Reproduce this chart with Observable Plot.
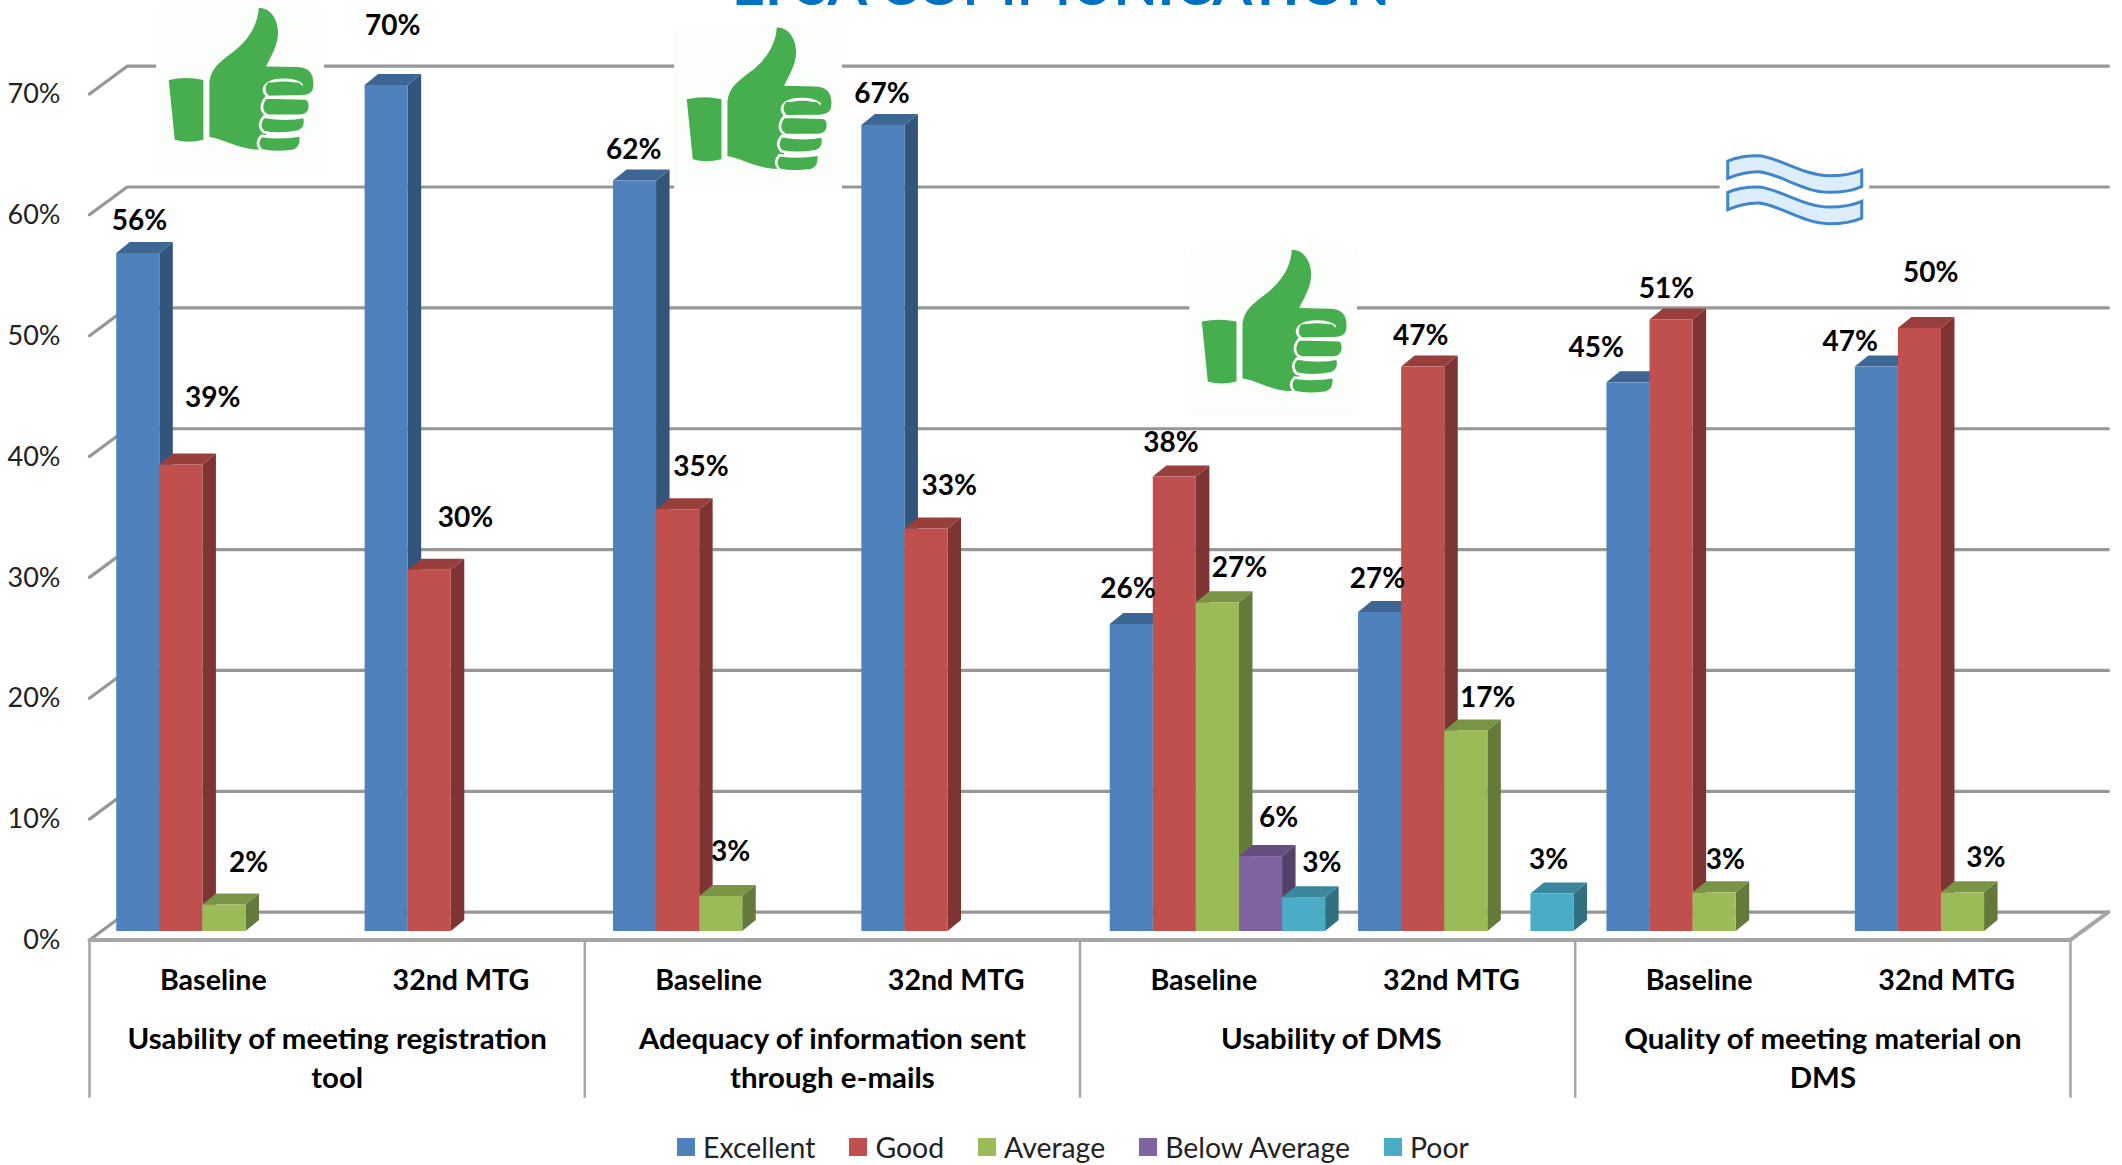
<!DOCTYPE html>
<html>
<head>
<meta charset="utf-8">
<script src="https://cdn.jsdelivr.net/npm/d3@7"></script>
<script src="https://cdn.jsdelivr.net/npm/@observablehq/plot@0.6"></script>
<style>
  html, body { margin: 0; padding: 0; background: #fff; overflow: hidden; }
  #root { position: relative; width: 2122px; height: 1165px; overflow: hidden; }
  #title { position: absolute; left: 0; right: 0; top: -46px; text-align: center; color: #0070c0;
           font: 700 57.3px Lato, sans-serif; line-height: 57.3px; white-space: nowrap; }
  svg { display: block; }
  .lg-swatch { margin-right: 34px !important; }
  .lg-swatch > svg { margin-right: 8px !important; }
</style>
</head>
<body>
<div id="root">
<div id="title">EFSA COMMUNICATION</div>
</div>
<script>
const seriesNames = ["Excellent", "Good", "Average", "Below Average", "Poor"];
const seriesColors = ["#4f81bd", "#c0504d", "#9bbb59", "#8064a2", "#4bacc6"];
const periods = ["Baseline", "32nd MTG", "Baseline", "32nd MTG", "Baseline", "32nd MTG", "Baseline", "32nd MTG"];
const topics = ["Usability of meeting registration\ntool", "Adequacy of information sent\nthrough e-mails", "Usability of DMS", "Quality of meeting material on\nDMS"];
const topicCentres = [1, 3, 5.015, 7];
const excellent = [56.1, 70, 62.1, 66.7, 25.4, 26.4, 45.4, 46.7];
const good = [38.6, 29.9, 34.9, 33.3, 37.6, 46.7, 50.6, 49.9];
const average = [2.2, null, 2.9, null, 27.2, 16.6, 3.2, 3.2];
const belowAverage = [null, null, null, null, 6.2, null, null, null];
const poor = [null, null, null, null, 2.8, 3.1, null, null];
const gridLevels = [0, 10, 20, 30, 40, 50, 60, 70];

// Printed data labels, bar by bar, in drawing order
const labelTexts = ["56%", "39%", "2%", "70%", "30%", "62%", "35%", "3%", "67%", "33%", "26%", "38%", "27%", "6%", "3%", "27%", "47%", "17%", "3%", "45%", "51%", "3%", "47%", "50%", "3%"];
// Hand placed data labels of the original: sideways in bar widths, upward in percentage points
const labelShift = [0.03, 0.73, 0.56, 0.14, 0.83, -0.03, 0.53, 0.22, -0.03, 0.53, -0.09, -0.09, 0.5, 0.41, 0.41, -0.06, -0.06, 0.5, -0.09, -0.75, -0.12, 0.25, -0.62, 0.25, 0.53];
const labelLift = [2.7, 5.5, 3.5, 4.9, 4.3, 2.6, 3.5, 3.7, 2.6, 3.6, 2.9, 2.8, 2.9, 3.2, 2.9, 2.8, 2.6, 2.7, 2.8, 2.9, 2.6, 2.7, 2.1, 4.6, 2.9];

// Chart geometry in scale units
const barPitch = 1.003, barOffset = 0.11, barWidth = 0.174;
const depthX = 13.5, depthY = 11;
const wallDepth = 0.152, wallRight = 8.153, frontDrop = -0.7, backRise = 1.6;

const seriesValues = [excellent, good, average, belowAverage, poor];
const bars = [];
periods.forEach((period, slot) => {
  seriesValues.forEach((values, s) => {
    if (values[slot] != null) bars.push({slot, s, series: seriesNames[s], value: values[slot],
      x1: slot * barPitch + barOffset + s * barWidth, x2: slot * barPitch + barOffset + (s + 1) * barWidth});
  });
});
bars.forEach((b, i) => { b.label = labelTexts[i]; b.labelX = (b.x1 + b.x2) / 2 + labelShift[i] * barWidth; b.labelY = b.value + labelLift[i]; });

const gridPath = gridLevels.flatMap(level => [
  {level, x: 0, y: level + frontDrop},
  {level, x: wallDepth, y: level + backRise},
  {level, x: wallRight, y: level + backRise}
]);
const floorEdge = [
  {x: 0, y: frontDrop}, {x: 8, y: frontDrop}, {x: wallRight, y: backRise}
];

const svgUri = s => "data:image/svg+xml;charset=utf-8," + encodeURIComponent(s);
const thumbSvg = svgUri(`<svg xmlns="http://www.w3.org/2000/svg" viewBox="0 0 504 504" preserveAspectRatio="none" width="504" height="504">
<rect width="504" height="504" fill="#fbfefb"/>
<g fill="#46ae4f">
<path d="M38 224 Q90 212 142 224 L142 406 Q95 418 56 406 Z"/>
<path d="M160 397 L160 230 C165 190 190 170 230 140 C275 105 305 60 308 6 C340 5 365 35 366 80 C366 120 345 150 330 183 L420 185 C455 185 472 200 472 235 C472 262 462 268 440 270 L330 272 L330 435 L296 435 C240 430 195 400 160 397 Z"/>
</g>
<path d="M436 238 C412 218 352 222 334 236 C320 248 322 262 334 272" fill="none" stroke="#fbfefb" stroke-width="9" stroke-linecap="round"/>
<path d="M336 232 L425 232 Q440 235 440 256 L440 270 L336 270 Q322 250 336 232 Z" fill="#46ae4f"/>
<g fill="#46ae4f" stroke="#fbfefb" stroke-width="8">
<path d="M330 277 L447 280 Q464 282 461 310 Q456 332 432 333 L336 333 Q314 322 318 300 Q321 286 330 277 Z"/>
<path d="M323 336 C370 344 410 344 445 336 Q454 372 427 381 C390 388 350 388 322 382 Q302 360 323 336 Z"/>
<path d="M316 394 C360 400 400 398 434 392 Q438 432 412 439 C380 444 340 444 316 438 Q296 416 316 394 Z"/>
</g>
</svg>`);
const waveBand = "M25 33 C55 20 85 17 115 17 C170 17 250 77 330 77 C370 77 405 70 427 60 L427 110 C405 120 370 127 330 127 C250 127 170 65 115 65 C85 65 55 72 25 85 Z";
const waveSvg = svgUri(`<svg xmlns="http://www.w3.org/2000/svg" viewBox="0 0 450 240" preserveAspectRatio="none" width="450" height="240">
<rect width="450" height="240" fill="#ffffff"/>
<g fill="#deedfb" stroke="#4186c8" stroke-width="9"><path d="${waveBand}"/><path d="${waveBand}" transform="translate(0,94)"/></g>
</svg>`);
const thumbs = [{x: 0.608, y: 69.7}, {x: 2.70, y: 68.1}, {x: 4.78, y: 49.7}];
const waves = [{x: 6.885, y: 61.35}];

const shade = (c, k) => { const r = d3.rgb(c); return d3.rgb(r.r * k, r.g * k, r.b * k).formatHex(); };
const ns = "http://www.w3.org/2000/svg";
const faces = (index, scales, values, dims, ctx, next) => {
  const g = next(index, scales, values, dims, ctx);
  const rects = [...g.querySelectorAll("rect")];
  index.forEach((i, n) => {
    const x1 = values.x1[i], x2 = values.x2[i], y1 = values.y1[i], y2 = values.y2[i], fill = values.fill[i];
    const poly = (pts, k) => {
      const p = document.createElementNS(ns, "polygon");
      p.setAttribute("points", pts.map(q => q.join(",")).join(" "));
      p.setAttribute("fill", shade(fill, k));
      g.insertBefore(p, rects[n]);
    };
    poly([[x2, y1], [x2 + depthX, y1 - depthY], [x2 + depthX, y2 - depthY], [x2, y2]], 0.65);
    poly([[x1, y2], [x1 + depthX, y2 - depthY], [x2 + depthX, y2 - depthY], [x2, y2]], 0.79);
  });
  return g;
};

const font = "Lato, sans-serif";
const plot = Plot.plot({
  width: 2122, height: 1125,
  marginLeft: 89, marginRight: 52, marginTop: 85, marginBottom: 194,
  style: {background: "transparent", fontFamily: font, color: "#000", overflow: "visible"},
  x: {domain: [0, 8]},
  y: {domain: [0, 70]},
  color: {type: "ordinal", domain: seriesNames, range: seriesColors},
  marks: [
    Plot.line(gridPath, {x: "x", y: "y", z: "level", stroke: "#979797", strokeWidth: 3.2, strokeLinejoin: "miter"}),
    Plot.line(floorEdge, {x: "x", y: "y", stroke: "#a6a6a6", strokeWidth: 4}),
    Plot.ruleX([0, 2, 4, 6, 8], {y1: frontDrop, y2: -13.8, stroke: "#a6a6a6", strokeWidth: 2.5}),
    Plot.rect(bars, {x1: "x1", x2: "x2", y1: 0, y2: "value", fill: "series", render: faces}),
    Plot.image(thumbs, {x: "x", y: "y", src: () => thumbSvg, width: 168, height: 166}),
    Plot.image(waves, {x: "x", y: "y", src: () => waveSvg, width: 150, height: 80}),
    Plot.text(bars, {x: "labelX", y: "labelY", text: "label",
      fontSize: 28, fontWeight: 700, fill: "#000"}),
    Plot.axisY({ticks: gridLevels, tickFormat: d => d + "%", tickSize: 0, tickPadding: 29, dy: 9,
      fontSize: 27, label: null, fill: "#222"}),
    Plot.axisX({ticks: periods.map((_, i) => i + 0.5), tickFormat: (_, i) => periods[i], tickSize: 0, tickPadding: 38,
      fontSize: 28.6, fontWeight: 700, label: null, fill: "#000"}),
    Plot.text(topics, {x: (_, i) => topicCentres[i], y: 0, dy: 90.5, lineAnchor: "top", lineHeight: 1.31,
      text: d => d, fontSize: 29.4, fontWeight: 700, fill: "#000"})
  ]
});
const legend = plot.legend("color", {className: "lg", swatchSize: 18, marginLeft: 677, style: {fontFamily: font, fontSize: "28.4px", color: "#222", marginTop: "5px"}});
const root = document.getElementById("root");
root.append(plot, legend);
</script>
</body>
</html>
